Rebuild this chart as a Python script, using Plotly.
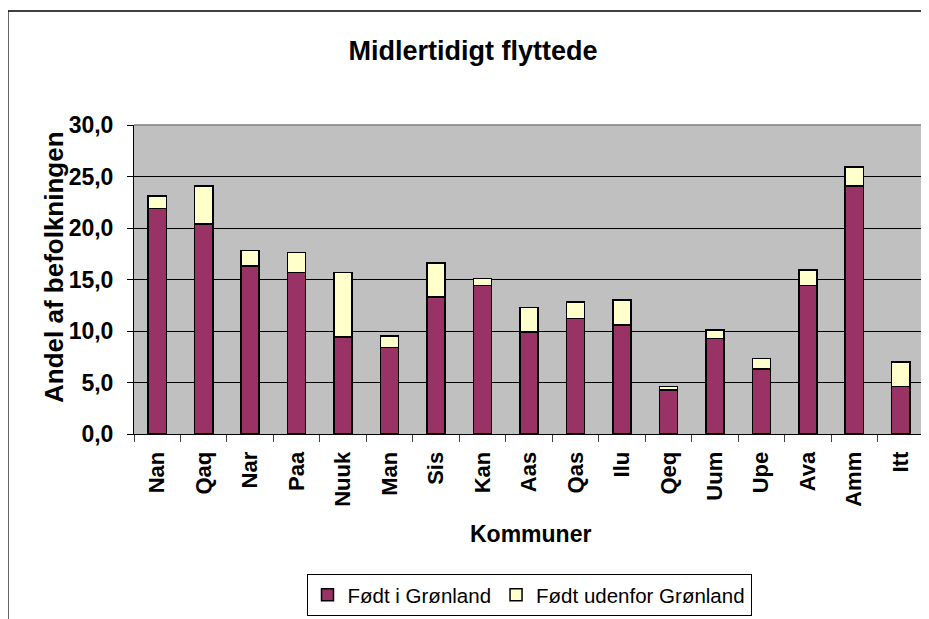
import plotly.graph_objects as go

kommuner = ["Nan", "Qaq", "Nar", "Paa", "Nuuk", "Man", "Sis", "Kan", "Aas",
            "Qas", "Ilu", "Qeq", "Uum", "Upe", "Ava", "Amm", "Itt"]
foedt_i_groenland = [21.9, 20.4, 16.3, 15.7, 9.4, 8.4, 13.3, 14.4, 9.9,
                     11.2, 10.6, 4.25, 9.25, 6.3, 14.4, 24.1, 4.6]
foedt_udenfor = [1.2, 3.7, 1.5, 1.9, 6.3, 1.1, 3.3, 0.7, 2.4,
                 1.6, 2.4, 0.35, 0.85, 1.05, 1.5, 1.8, 2.4]
y_ticks = [0, 5, 10, 15, 20, 25, 30]

FONT = "Liberation Sans, Arial, sans-serif"

# page has an 8px body margin: work in screen pixels, convert to figure pixels
OFF = 8
W, H = 929 - OFF, 619 - OFF
L, R, T, B = 134 - OFF, 924 - OFF, 125 - OFF, 434 - OFF
pw, ph = R - L, B - T

def px_x(x):
    return (x - OFF - L) / pw

def px_y(y):
    return (B - (y - OFF)) / ph

fig = go.Figure()
fig.add_trace(go.Bar(
    x=kommuner, y=foedt_i_groenland, name="Født i Grønland",
    marker=dict(color="#993366", line=dict(color="black", width=1.5)),
))
fig.add_trace(go.Bar(
    x=kommuner, y=foedt_udenfor, name="Født udenfor Grønland",
    marker=dict(color="#FFFFCC", line=dict(color="black", width=1.5)),
))

fig.update_layout(
    width=W, height=H,
    barmode="stack",
    bargap=0.61,
    separators=",.",
    paper_bgcolor="white",
    plot_bgcolor="#C0C0C0",
    margin=dict(l=L, r=W - R, t=T, b=H - B, autoexpand=False),
    font=dict(family=FONT, color="black"),
    title=dict(
        text="<b>Midlertidigt flyttede</b>",
        x=(473 - OFF) / W, xanchor="center", xref="container",
        y=1 - (51 - OFF) / H, yanchor="middle", yref="container",
        font=dict(size=27, family=FONT, color="black"),
    ),
    showlegend=True,
    legend=dict(
        orientation="h",
        x=0.5, xanchor="center",
        y=px_y(574), yanchor="top",
        bordercolor="black", borderwidth=1,
        bgcolor="white",
        font=dict(size=20.5, family=FONT, color="black"),
        traceorder="normal",
    ),
    xaxis=dict(
        type="category",
        showline=True, linecolor="black", linewidth=1,
        ticks="outside", tickson="boundaries", ticklen=7,
        tickcolor="#404040", tickwidth=1,
        tickangle=-90,
        ticklabelstandoff=8,
        tickfont=dict(size=22, family=FONT, color="black", weight="bold"),
        showgrid=False,
        automargin=False,
    ),
    yaxis=dict(
        range=[0, 30],
        tickvals=y_ticks,
        tickformat=".1f",
        showline=True, linecolor="black", linewidth=1,
        ticks="outside", ticklen=6, tickcolor="black",
        ticklabelstandoff=9,
        tickfont=dict(size=23, family=FONT, color="black", weight="bold"),
        showgrid=True, gridcolor="black", gridwidth=1,
        zeroline=False,
        automargin=False,
    ),
    annotations=[
        dict(text="<b>Andel af befolkningen</b>", xref="paper", yref="paper",
             x=px_x(54), y=px_y(267), textangle=-90, showarrow=False,
             xanchor="center", yanchor="middle",
             font=dict(size=26, family=FONT, color="black")),
        dict(text="<b>Kommuner</b>", xref="paper", yref="paper",
             x=px_x(530), y=px_y(534), showarrow=False,
             xanchor="center", yanchor="middle",
             font=dict(size=23, family=FONT, color="black")),
    ],
    shapes=[
        # plot-area border (top and right)
        dict(type="line", xref="paper", yref="paper", x0=0, x1=1, y0=1, y1=1,
             line=dict(color="#808080", width=1.5)),
        dict(type="line", xref="paper", yref="paper", x0=1, x1=1, y0=0, y1=1,
             line=dict(color="#808080", width=1.5)),
        # outer chart frame
        dict(type="line", xref="paper", yref="paper",
             x0=px_x(8), x1=px_x(929), y0=px_y(11), y1=px_y(11),
             line=dict(color="#404040", width=2)),
        dict(type="line", xref="paper", yref="paper",
             x0=px_x(8), x1=px_x(8), y0=px_y(11), y1=px_y(619),
             line=dict(color="black", width=1.2)),
    ],
)

fig.write_html("out.html")
